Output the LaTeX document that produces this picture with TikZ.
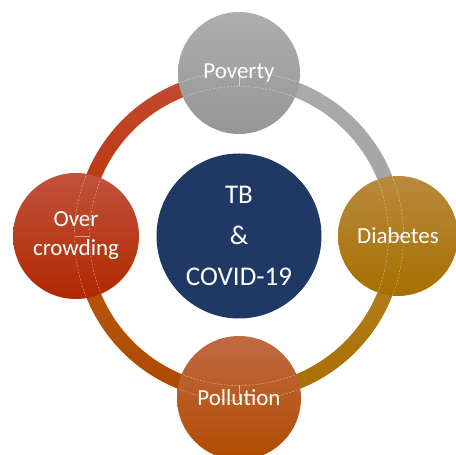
\documentclass[tikz,border=0pt]{standalone}
\usepackage{fontspec}
\setmainfont{Carlito}
\usetikzlibrary{calc}
\definecolor{navy}{HTML}{203864}
\definecolor{povT}{HTML}{AEAEAE}
\definecolor{povB}{HTML}{969696}
\definecolor{diaT}{HTML}{B98A3E}
\definecolor{diaB}{HTML}{A66F00}
\definecolor{polT}{HTML}{C06A44}
\definecolor{polB}{HTML}{B04C00}
\definecolor{ovrT}{HTML}{C1533C}
\definecolor{ovrB}{HTML}{B02800}
\definecolor{rTRt}{HTML}{ABABAB}
\definecolor{rTRb}{HTML}{A2A2A2}
\definecolor{rBRt}{HTML}{B68324}
\definecolor{rBRb}{HTML}{A86E00}
\definecolor{rBLt}{HTML}{BB5A12}
\definecolor{rBLb}{HTML}{AE4800}
\definecolor{rTLt}{HTML}{C24C34}
\definecolor{rTLb}{HTML}{BA3000}
\tikzset{
  bubble/.style={circle, draw=none, inner sep=0pt, text=white, align=center,
    font=\fontsize{23}{29}\selectfont},
  ringline/.style={white, opacity=0.55, line width=0.4pt, dash pattern=on 2pt off 1.5pt},
  segline/.style={white, opacity=0.55, line width=0.4pt}
}
\newcommand{\ringsector}[4]{%
  \shade[top color=#3, bottom color=#4]
    ($(ctr)+(#1:164.5)$) arc[start angle=#1, end angle=#2, radius=164.5]
    -- ($(ctr)+(#2:149.5)$) arc[start angle=#2, end angle=#1, radius=149.5] -- cycle;}
\begin{document}
\begin{tikzpicture}[x=1pt,y=1pt]
\useasboundingbox (0,0) rectangle (456,455);
\coordinate (ctr) at (239,219);
% ring
\ringsector{0}{90}{rTRt}{rTRb}
\ringsector{270}{360}{rBRt}{rBRb}
\ringsector{180}{270}{rBLt}{rBLb}
\ringsector{90}{180}{rTLt}{rTLb}
% center
\node[bubble, fill=navy, minimum size=165pt,
  font=\fontsize{27}{41}\selectfont] (tb) at (ctr) {TB\\\&\\COVID-19};
% outer bubbles
\node[bubble, top color=povT, bottom color=povB, minimum size=122pt] (pov) at (239,382) {Poverty};
\node[bubble, top color=diaT, bottom color=diaB, minimum size=120pt] (dia) at (398,219) {Diabetes};
\node[bubble, top color=polT, bottom color=polB, minimum size=124pt] (pol) at (239,57) {Pollution};
\node[bubble, top color=ovrT, bottom color=ovrB, minimum size=126pt] (ovr) at (76,219) {Over\\crowding};
% ring outlines seen through bubbles
\foreach \b in {pov,dia,pol,ovr}{
  \begin{scope}
    \clip (\b) circle[radius=61.5];
    \draw[ringline] (ctr) circle[radius=164.5];
    \draw[ringline] (ctr) circle[radius=149.5];
  \end{scope}
}
\draw[segline] ($(ctr)+(90:149.5)$) -- ($(ctr)+(90:164.5)$);
\draw[segline] ($(ctr)+(270:149.5)$) -- ($(ctr)+(270:164.5)$);
\draw[segline] ($(ctr)+(180:149.5)$) -- ($(ctr)+(180:164.5)$);
\draw[segline] ($(ctr)+(0:149.5)$) -- ($(ctr)+(0:164.5)$);
\end{tikzpicture}
\end{document}
